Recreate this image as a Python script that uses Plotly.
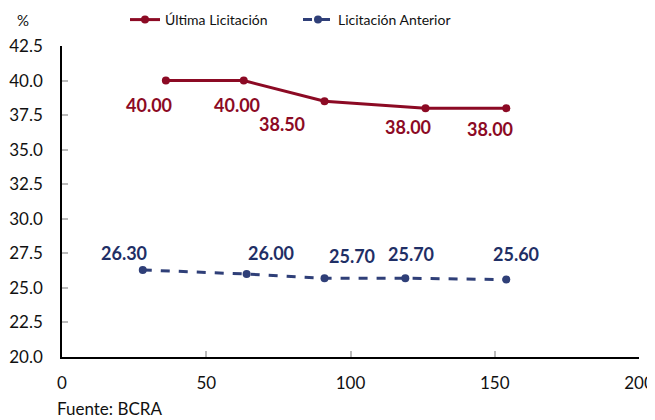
import plotly.graph_objects as go

# Data
ult_x = [36, 63, 91, 126, 154]
ult_y = [40.00, 40.00, 38.50, 38.00, 38.00]
ant_x = [28, 64, 91, 119, 154]
ant_y = [26.30, 26.00, 25.70, 25.70, 25.60]
x_ticks = [0, 50, 100, 150, 200]
y_ticks = [20.0, 22.5, 25.0, 27.5, 30.0, 32.5, 35.0, 37.5, 40.0, 42.5]

# Label offsets (pixels)
ult_off = [(-17, -24), (-7, -24), (-43, -23), (-18, -19), (-16, -21)]
ant_off = [(-19, 17), (24, 21), (27, 22), (6, 24), (10, 26)]

RED = "#8C0A24"
BLUE = "#2F3F78"
BLUE_TXT = "#1F2F66"
FONT = "Lato"

fig = go.Figure()
fig.add_trace(go.Scatter(x=ult_x, y=ult_y, mode="lines+markers", name="Última Licitación",
                         line=dict(color=RED, width=3), marker=dict(size=8, color=RED)))
fig.add_trace(go.Scatter(x=ant_x, y=ant_y, mode="lines+markers", name="Licitación Anterior",
                         line=dict(color=BLUE, width=3, dash="dash"), marker=dict(size=8, color=BLUE)))

ann = []
for x, y, (dx, dy) in zip(ult_x, ult_y, ult_off):
    ann.append(dict(x=x, y=y, text=f"<b>{y:.2f}</b>", showarrow=False, xshift=dx, yshift=dy,
                    font=dict(color=RED, size=18, family=FONT)))
for x, y, (dx, dy) in zip(ant_x, ant_y, ant_off):
    ann.append(dict(x=x, y=y, text=f"<b>{y:.2f}</b>", showarrow=False, xshift=dx, yshift=dy,
                    font=dict(color=BLUE_TXT, size=18, family=FONT)))
ann.append(dict(xref="paper", yref="paper", x=(23 - 62) / 577, y=(357 - 20) / 311, text="%",
                showarrow=False, xanchor="center", yanchor="middle",
                font=dict(size=15, color="#111", family=FONT)))
ann.append(dict(xref="paper", yref="paper", x=(55 - 62) / 577, y=(357 - 408) / 311,
                text="Fuente: BCRA", showarrow=False, xanchor="left", yanchor="middle",
                font=dict(size=17, color="#111", family=FONT)))

fig.update_layout(
    width=647, height=412,
    margin=dict(l=54, r=16, t=38, b=63, autoexpand=False),
    paper_bgcolor="white", plot_bgcolor="white",
    font=dict(family=FONT, size=17, color="#111"),
    showlegend=True,
    legend=dict(orientation="h", x=(125 - 62) / 577, y=1 - 12 / 412, yref="container",
                xanchor="left", yanchor="middle",
                font=dict(size=14, family=FONT, color="#111"), entrywidth=128, tracegroupgap=0,
                bgcolor="rgba(0,0,0,0)"),
    annotations=ann,
    xaxis=dict(range=[0, 200], tickvals=x_ticks, ticktext=[str(v) for v in x_ticks],
               showgrid=False, zeroline=False, showline=True, linecolor="black", linewidth=1.5,
               ticks="inside", ticklen=6, tickcolor="#bbbbbb", tickwidth=1.5,
               tickfont=dict(size=17), ticklabelstandoff=10, automargin=False),
    yaxis=dict(range=[20, 42.5], tickvals=y_ticks, ticktext=[f"{v:.1f}" for v in y_ticks],
               showgrid=False, zeroline=False, showline=True, linecolor="black", linewidth=1.5,
               ticks="inside", ticklen=6, tickcolor="#bbbbbb", tickwidth=1.5,
               tickfont=dict(size=17), ticklabelstandoff=14, automargin=False),
)

fig.write_html("out.html")
